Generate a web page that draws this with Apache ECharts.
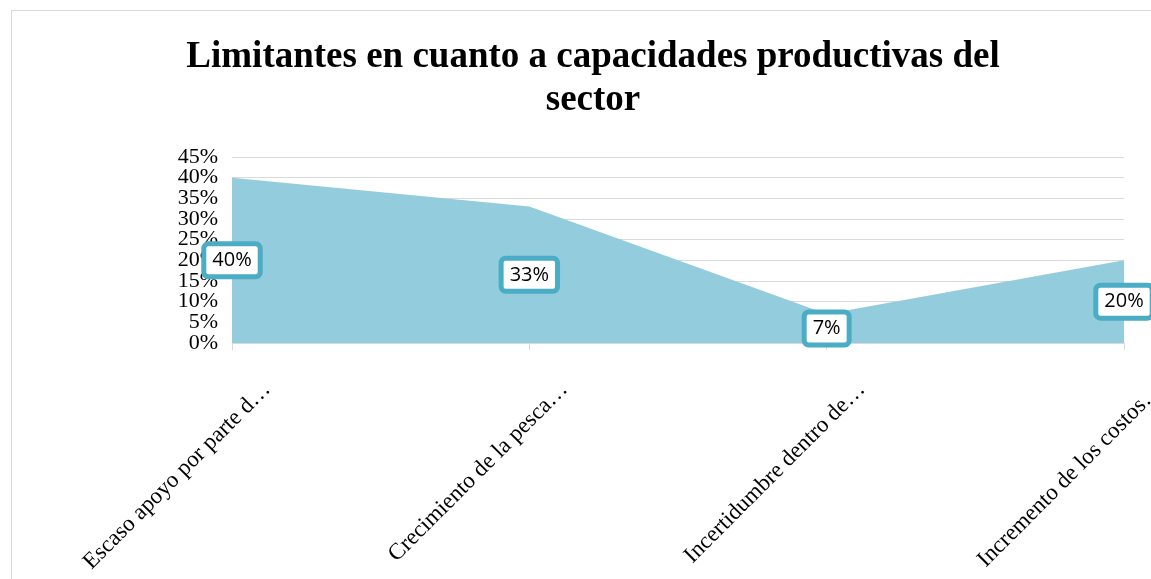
<!DOCTYPE html>
<html>
<head>
<meta charset="utf-8">
<script src="https://cdn.jsdelivr.net/npm/echarts@6/dist/echarts.min.js"></script>
<style>
  html, body { margin: 0; padding: 0; background: #fff; overflow: hidden; }
  .frame { position: absolute; left: 11px; top: 10px; width: 1160px; height: 600px; border: 1px solid #d9d9d9; }
  #chart { position: absolute; left: 0; top: 0; width: 1151px; height: 579px; }
</style>
</head>
<body>
<div class="frame"></div>
<div id="chart"></div>
<script>
const categories = [
  'Escaso apoyo por parte d…',
  'Crecimiento de la pesca…',
  'Incertidumbre dentro de…',
  'Incremento de los costos…'
]
const values = [40, 33, 7, 20]
const yTicks = [0, 5, 10, 15, 20, 25, 30, 35, 40, 45]

const myChart = echarts.init(document.getElementById('chart'))
const serif = '"Liberation Serif", "Times New Roman", serif'
const teal = '#4BACC6'

// labels sit halfway up the area, like the original
const labelPoints = values.map((v, i) => ({ value: [i, v / 2], shown: v }))

// tick labels crowd each other, so they are split over two stacked axes
// (otherwise echarts drops the ones it thinks overlap)
const evenTicks = yTicks.filter((t, i) => i % 2 === 0)
const oddTicks = yTicks.filter((t, i) => i % 2 === 1)

function yAxisFor(ticks, withGrid) {
  return {
    type: 'value',
    position: 'left',
    min: yTicks[0],
    max: yTicks[yTicks.length - 1],
    interval: 5,
    axisLine: { show: false },
    axisTick: { show: false },
    axisLabel: {
      customValues: ticks,
      formatter: '{value}%',
      color: '#000',
      fontFamily: serif,
      fontSize: 22,
      margin: 14,
      hideOverlap: false
    },
    splitLine: { show: withGrid, lineStyle: { color: '#d9d9d9' } }
  }
}

const option = {
  animation: false,
  title: {
    text: 'Limitantes en cuanto a capacidades productivas del\nsector',
    left: 588,
    top: 31,
    textAlign: 'center',
    textStyle: {
      fontFamily: serif,
      fontWeight: 'bold',
      fontSize: 37,
      lineHeight: 43,
      color: '#000'
    }
  },
  grid: { left: 232, right: 27, top: 157, bottom: 236, containLabel: false, outerBoundsMode: 'none' },
  xAxis: {
    type: 'category',
    data: categories,
    boundaryGap: false,
    axisLine: { lineStyle: { color: '#d9d9d9', width: 1 } },
    axisTick: { show: true, length: 7, lineStyle: { color: '#d9d9d9' } },
    axisLabel: {
      rotate: 45,
      margin: 8,
      verticalAlign: 'top',
      padding: [38, 0, 0, 0],
      color: '#000',
      fontFamily: serif,
      fontSize: 23,
      interval: 0,
      hideOverlap: false
    }
  },
  yAxis: [yAxisFor(evenTicks, true), yAxisFor(oddTicks, false)],
  series: [
    {
      name: 'Limitantes',
      type: 'line',
      data: values,
      symbol: 'none',
      lineStyle: { width: 0, color: '#93CDDD' },
      areaStyle: { color: '#93CDDD', opacity: 1 }
    },
    {
      type: 'scatter',
      data: labelPoints,
      symbolSize: 1,
      itemStyle: { color: 'rgba(0,0,0,0)', opacity: 1 },
      emphasis: { disabled: true },
      label: {
        show: true,
        position: 'inside',
        formatter: p => p.data.shown + '%',
        color: '#000',
        opacity: 1,
        fontFamily: '"Open Sans", "Noto Sans", sans-serif',
        fontSize: 20,
        backgroundColor: '#fff',
        borderColor: teal,
        borderWidth: 5,
        borderRadius: 2,
        padding: [5, 6, 3, 6]
      },
      z: 5
    }
  ]
}

myChart.setOption(option)
</script>
</body>
</html>
